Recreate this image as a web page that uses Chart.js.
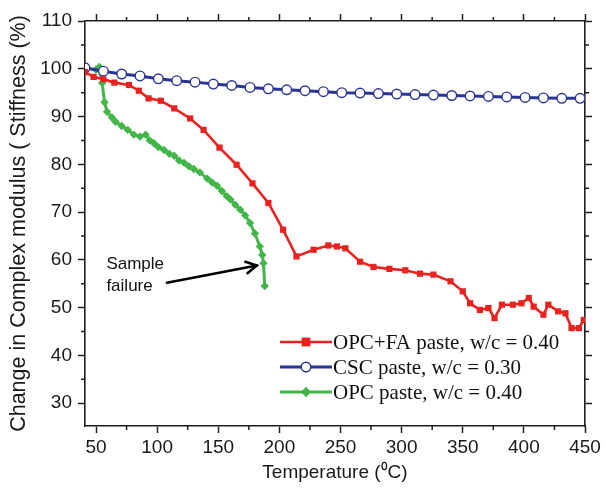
<!DOCTYPE html>
<html><head><meta charset="utf-8">
<script src="https://cdn.jsdelivr.net/npm/chart.js@4.4.1/dist/chart.umd.min.js"></script>
<style>html,body{margin:0;padding:0;background:#fff;}#wrap{width:605px;height:493px;}</style>
</head><body><div id="wrap"><canvas id="c" width="605" height="493"></canvas></div>
<script>
// ---- data ----
const seriesNames = ['OPC+FA paste, w/c = 0.40', 'CSC paste, w/c = 0.30', 'OPC paste, w/c = 0.40'];

const faT = [41, 48, 56, 65, 77, 85, 93, 103, 114, 127, 138, 151, 165, 178, 191, 203, 214, 228, 240, 247, 254, 266, 277, 290, 303, 315, 326, 340, 350, 356, 364, 371, 376, 382, 391, 398, 404, 408, 416, 420, 428, 434, 439, 445, 449];
const faV = [99.3, 98.3, 97.8, 97.1, 96.6, 95.4, 93.8, 93.3, 91.7, 89.6, 87.2, 83.5, 79.9, 76.0, 71.9, 66.3, 60.7, 62.1, 63.0, 62.8, 62.4, 59.6, 58.5, 58.1, 57.8, 57.1, 56.9, 55.5, 53.4, 50.9, 49.5, 49.9, 47.8, 50.6, 50.6, 50.9, 52.0, 50.2, 48.5, 50.6, 49.2, 48.8, 45.7, 45.7, 47.4];

const cscT = [41, 56, 71, 86, 101, 116, 131, 146, 161, 176, 191, 206, 221, 236, 251, 266, 281, 296, 311, 326, 341, 356, 371, 386, 401, 416, 431, 446];
const cscV = [100.2, 99.5, 98.9, 98.5, 97.9, 97.5, 97.2, 96.8, 96.5, 96.1, 95.8, 95.6, 95.4, 95.2, 95.0, 94.9, 94.8, 94.7, 94.6, 94.5, 94.4, 94.3, 94.2, 94.1, 94.0, 93.9, 93.8, 93.8];

const opcT = [50, 52.7, 55, 57, 59, 63, 66, 71, 76, 81, 86, 90.6, 94, 97.4, 101, 105.6, 110, 114, 118, 122, 126, 130, 135, 141, 145, 149, 153, 157, 160, 164, 168, 172, 176, 180, 184, 186, 187, 188];
const opcV = [99.8, 100.4, 97.0, 93.0, 91.0, 89.8, 88.9, 88.0, 87.2, 86.2, 85.8, 86.2, 85.0, 84.4, 83.6, 83.0, 82.2, 81.8, 80.8, 80.3, 79.6, 79.0, 78.3, 77.0, 76.2, 75.5, 74.4, 73.3, 72.6, 71.5, 70.5, 69.3, 67.7, 65.5, 62.8, 61.0, 59.3, 54.5];

const xTicks = [50, 100, 150, 200, 250, 300, 350, 400, 450];
const xMinorTicks = [75, 125, 175, 225, 275, 325, 375, 425];
const yTicks = [30, 40, 50, 60, 70, 80, 90, 100, 110];
const yMinorTicks = [35, 45, 55, 65, 75, 85, 95, 105];
const xRange = [41, 450];
const yRange = [25.2, 110];

const xTitle = 'Temperature (\u2070C)';
const yTitle = 'Change in Complex modulus ( Stiffness (%)';
const noteLines = ['Sample', 'failure'];
const noteAnchor = [58.5, 59.0];      // data position of first note line (x, y)
const noteLineStep = 4.6;             // data units between note lines
const arrowFrom = [108, 55.2];
const arrowTo = [181.5, 58.8];

// ---- styles ----
const RED = '#e8231f', BLUE = '#2a3496', GREEN = '#43b649', AXIS = '#1e1e1e';
const SANS = '"Liberation Sans", Arial, Helvetica, sans-serif';
const SERIF = '"Liberation Serif", "Times New Roman", serif';

function pts(xs, ys) { return xs.map((x, i) => ({x: x, y: ys[i]})); }

const datasets = [
  {label: seriesNames[0], data: pts(faT, faV), borderColor: RED, backgroundColor: RED, borderWidth: 2.6,
   pointStyle: 'rect', pointRadius: 4.4, pointBorderWidth: 0, pointBackgroundColor: RED, tension: 0},
  {label: seriesNames[1], data: pts(cscT, cscV), borderColor: BLUE, backgroundColor: '#fff', borderWidth: 3,
   pointStyle: 'circle', pointRadius: 4.8, pointBorderWidth: 1.4, pointBorderColor: BLUE, pointBackgroundColor: '#fff', tension: 0},
  {label: seriesNames[2], data: pts(opcT, opcV), borderColor: GREEN, backgroundColor: GREEN, borderWidth: 3,
   pointStyle: 'rectRot', pointRadius: 4.2, pointBorderWidth: 0, pointBackgroundColor: GREEN, tension: 0}
];

function fixTicks(list) { return function (s) { s.ticks = list.map(v => ({value: v})); }; }
function setW(w) { return function (s) { s.width = w; }; }
function setH(h) { return function (s) { s.height = h; }; }

const tickFont = {family: SANS, size: 19};
const gridOpts = {display: true, drawOnChartArea: false, drawTicks: true, tickLength: 7, tickWidth: 1.5, tickColor: AXIS};
const borderOpts = {display: true, color: AXIS, width: 1.6};

const extras = {
  id: 'extras',
  afterDraw(chart) {
    const ctx = chart.ctx, a = chart.chartArea;
    const xs = chart.scales.x, ys = chart.scales.y;
    ctx.save();
    // minor ticks
    ctx.strokeStyle = AXIS; ctx.lineWidth = 1.5;
    const mlen = 4;
    xMinorTicks.forEach(v => {
      const px = xs.getPixelForValue(v);
      ctx.beginPath();
      ctx.moveTo(px, a.bottom); ctx.lineTo(px, a.bottom + mlen);
      ctx.moveTo(px, a.top); ctx.lineTo(px, a.top - mlen);
      ctx.stroke();
    });
    yMinorTicks.forEach(v => {
      const py = ys.getPixelForValue(v);
      ctx.beginPath();
      ctx.moveTo(a.left, py); ctx.lineTo(a.left - mlen, py);
      ctx.moveTo(a.right, py); ctx.lineTo(a.right + mlen, py);
      ctx.stroke();
    });
    // annotation text
    ctx.fillStyle = '#111';
    ctx.font = '17px ' + SANS;
    ctx.textAlign = 'left'; ctx.textBaseline = 'middle';
    noteLines.forEach((t, i) => {
      ctx.fillText(t, xs.getPixelForValue(noteAnchor[0]), ys.getPixelForValue(noteAnchor[1] - i * noteLineStep));
    });
    // arrow
    const x1 = xs.getPixelForValue(arrowFrom[0]), y1 = ys.getPixelForValue(arrowFrom[1]);
    const x2 = xs.getPixelForValue(arrowTo[0]), y2 = ys.getPixelForValue(arrowTo[1]);
    ctx.strokeStyle = '#000'; ctx.lineWidth = 2.6; ctx.lineCap = 'round';
    ctx.beginPath(); ctx.moveTo(x1, y1); ctx.lineTo(x2, y2); ctx.stroke();
    const ang = Math.atan2(y2 - y1, x2 - x1), hl = 12;
    ctx.beginPath();
    ctx.moveTo(x2 - hl * Math.cos(ang - 0.5), y2 - hl * Math.sin(ang - 0.5));
    ctx.lineTo(x2, y2);
    ctx.lineTo(x2 - hl * Math.cos(ang + 0.5), y2 - hl * Math.sin(ang + 0.5));
    ctx.stroke();
    // legend (inside plot, bottom right)
    const lx = a.right - 305, ly0 = a.bottom - 84, rowH = 25, lineLen = 52;
    ctx.font = '21px ' + SERIF;
    ctx.textBaseline = 'middle'; ctx.textAlign = 'left';
    chart.data.datasets.forEach((ds, i) => {
      const y = ly0 + i * rowH;
      ctx.strokeStyle = ds.borderColor; ctx.lineWidth = ds.borderWidth; ctx.lineCap = 'butt';
      ctx.beginPath(); ctx.moveTo(lx, y); ctx.lineTo(lx + lineLen, y); ctx.stroke();
      const cx = lx + lineLen / 2, r = ds.pointRadius;
      ctx.beginPath();
      if (ds.pointStyle === 'rect') {
        ctx.fillStyle = ds.pointBackgroundColor; ctx.fillRect(cx - r, y - r, 2 * r, 2 * r);
      } else if (ds.pointStyle === 'circle') {
        ctx.arc(cx, y, r, 0, Math.PI * 2);
        ctx.fillStyle = ds.pointBackgroundColor; ctx.fill();
        ctx.lineWidth = ds.pointBorderWidth; ctx.strokeStyle = ds.pointBorderColor; ctx.stroke();
      } else {
        ctx.moveTo(cx, y - r - 1); ctx.lineTo(cx + r + 1, y); ctx.lineTo(cx, y + r + 1); ctx.lineTo(cx - r - 1, y); ctx.closePath();
        ctx.fillStyle = ds.pointBackgroundColor; ctx.fill();
      }
      ctx.fillStyle = '#111';
      ctx.fillText(ds.label, lx + lineLen + 1, y + 1);
    });
    ctx.restore();
  }
};

new Chart(document.getElementById('c'), {
  type: 'line',
  data: {datasets: datasets},
  options: {
    responsive: false, animation: false, devicePixelRatio: 1,
    layout: {padding: 0},
    plugins: {legend: {display: false}, tooltip: {enabled: false}},
    scales: {
      x: {type: 'linear', position: 'bottom', min: xRange[0], max: xRange[1],
          afterBuildTicks: fixTicks(xTicks), afterFit: setH(67),
          grid: gridOpts, border: borderOpts,
          ticks: {font: tickFont, color: '#1a1a1a', padding: 3, maxRotation: 0, autoSkip: false},
          title: {display: true, text: xTitle, font: {family: SANS, size: 19}, color: '#1a1a1a', padding: {top: 0, bottom: 9}}},
      x2: {type: 'linear', position: 'top', min: xRange[0], max: xRange[1],
          afterBuildTicks: fixTicks(xTicks), afterFit: setH(21),
          grid: gridOpts, border: borderOpts, ticks: {display: false}},
      y: {type: 'linear', position: 'left', min: yRange[0], max: yRange[1],
          afterBuildTicks: fixTicks(yTicks), afterFit: setW(85),
          grid: gridOpts, border: borderOpts,
          ticks: {font: tickFont, color: '#1a1a1a', padding: 6, autoSkip: false},
          title: {display: true, text: yTitle, font: {family: SANS, size: 21.5}, color: '#1a1a1a', padding: {top: 6, bottom: 0}}},
      y2: {type: 'linear', position: 'right', min: yRange[0], max: yRange[1],
          afterBuildTicks: fixTicks(yTicks), afterFit: setW(20),
          grid: gridOpts, border: borderOpts, ticks: {display: false}}
    }
  },
  plugins: [extras]
});
</script></body></html>
